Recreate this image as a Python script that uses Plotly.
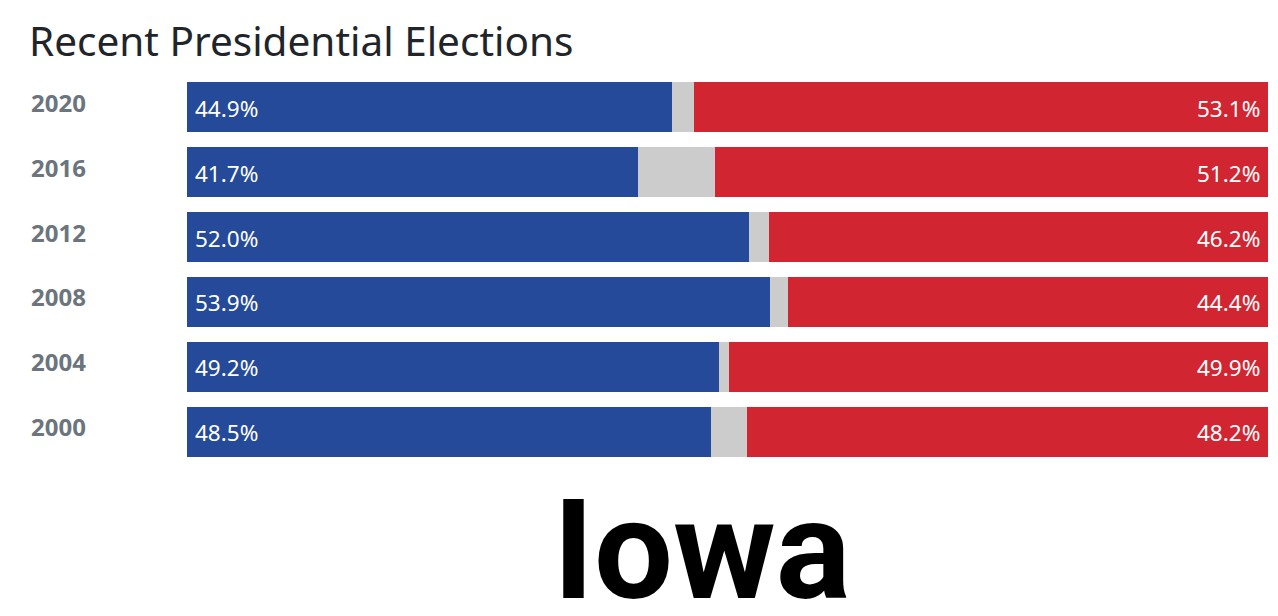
import plotly.graph_objects as go

years = ["2020", "2016", "2012", "2008", "2004", "2000"]
dem = [44.9, 41.7, 52.0, 53.9, 49.2, 48.5]
rep = [53.1, 51.2, 46.2, 44.4, 49.9, 48.2]
other = [round(100 - d - r, 1) for d, r in zip(dem, rep)]

BLUE = "#244a99"
RED = "#d22532"
GRAY = "#cccccc"
# figure is placed at (8, 8) by the page's default body margin
W, H = 1270, 608
L, R, T, B = 179, 10, 67, 152

order = years[::-1]

fig = go.Figure()
fig.add_trace(go.Bar(
    y=years, x=dem, orientation="h", marker=dict(color=BLUE, line=dict(width=0)),
    hoverinfo="skip"))
fig.add_trace(go.Bar(
    y=years, x=other, orientation="h", marker=dict(color=GRAY, line=dict(width=0)),
    hoverinfo="skip"))
fig.add_trace(go.Bar(
    y=years, x=rep, orientation="h", marker=dict(color=RED, line=dict(width=0)),
    hoverinfo="skip"))

pw = W - L - R
ph = H - T - B
annotations = []
for i, y in enumerate(years):
    yi = order.index(y)
    annotations.append(dict(
        x=(21 - L) / pw, xref="paper", y=yi, yref="y", text=f"<b>{y}</b>",
        showarrow=False, xanchor="left", yanchor="middle", yshift=5,
        font=dict(size=24, color="#6c757d", family="Noto Sans")))
    annotations.append(dict(
        x=0, xref="x", y=yi, yref="y", text=f"{dem[i]:.1f}%", xshift=6,
        showarrow=False, xanchor="left", yanchor="middle", yshift=-1,
        font=dict(size=22.5, color="white", family="Noto Sans")))
    annotations.append(dict(
        x=100, xref="x", y=yi, yref="y", text=f"{rep[i]:.1f}%", xshift=-6,
        showarrow=False, xanchor="right", yanchor="middle", yshift=-1,
        font=dict(size=22.5, color="white", family="Noto Sans")))
annotations.append(dict(
    x=(694 - L) / pw, xref="paper", y=(H - B - 542) / ph, yref="paper",
    text="<b>Iowa</b>", showarrow=False, xanchor="center", yanchor="middle",
    font=dict(size=140, color="black", family="Roboto")))

fig.update_layout(
    width=W, height=H, barmode="stack", bargap=15 / 65,
    margin=dict(l=L, r=R, t=T, b=B),
    plot_bgcolor="white", paper_bgcolor="white", showlegend=False,
    title=dict(text="Recent Presidential Elections", x=21 / W, xanchor="left",
               y=1 - 34 / H, yanchor="middle", pad=dict(l=0, r=0, t=0, b=0),
               font=dict(size=40.5, color="#212529", family="Noto Sans")),
    xaxis=dict(range=[0, 100], visible=False, fixedrange=True),
    yaxis=dict(type="category", categoryorder="array", categoryarray=order,
               range=[-0.5, len(order) - 0.5], autorange=False,
               visible=False, fixedrange=True),
    annotations=annotations,
)
fig.write_html("out.html", config={"displayModeBar": False})
